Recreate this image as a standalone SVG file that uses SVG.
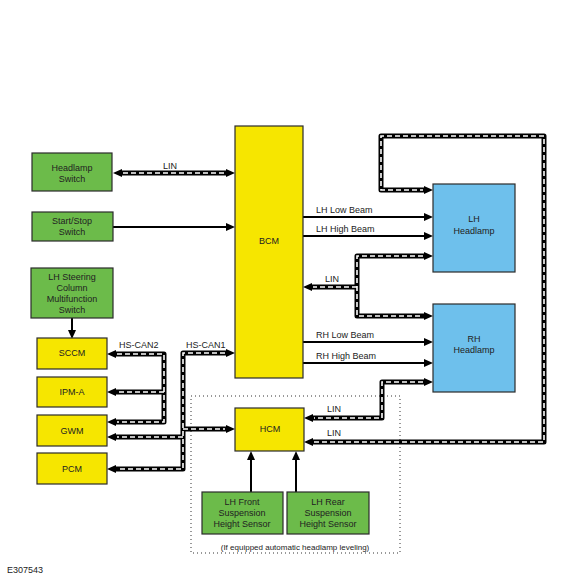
<svg xmlns="http://www.w3.org/2000/svg" width="580" height="580" viewBox="0 0 580 580">
<defs>
<marker id="ah" markerWidth="9" markerHeight="8" refX="0" refY="4" orient="auto-start-reverse" markerUnits="userSpaceOnUse"><path d="M0,0 L9,4 L0,8 z" fill="#000"/></marker>
</defs>
<style>
text{font-family:"Liberation Sans",Arial,sans-serif;font-size:9px;fill:#222}
.c{text-anchor:middle}
.g{fill:#6cbb4a;stroke:#2b2b2b;stroke-width:1.2}
.y{fill:#f6e600;stroke:#2b2b2b;stroke-width:1.2}
.b{fill:#6ec0ec;stroke:#2b2b2b;stroke-width:1.2}
.bus{fill:none;stroke:#000;stroke-width:5;stroke-linejoin:round}
.dash{fill:none;stroke:#fff;stroke-width:1.6;stroke-dasharray:5 3}
.w{fill:none;stroke:#000;stroke-width:2}
.both{marker-start:url(#ah);marker-end:url(#ah)}
.end{marker-end:url(#ah)}
</style>
<rect width="580" height="580" fill="#fff"/>
<rect x="191" y="396" width="209" height="157" fill="none" stroke="#333" stroke-width="1" stroke-dasharray="1 3"/>
<g id="connectors">
<path class="bus both" d="M122,173 H226"/>
<path class="dash" d="M123,173 H225"/>
<path class="w end" d="M113,227 H226"/>
<path class="w end" d="M72,318 V330"/>
<path class="bus both" d="M116,354 H164 V422 H116"/>
<path class="bus end" d="M164,392 H116"/>
<path class="dash" d="M117,354 H164 V422 H117 M164,392 H117"/>
<path class="bus both" d="M226,353 H183 V469 H116"/>
<path class="bus end" d="M183,437 H116"/>
<path class="bus end" d="M183,429 H226"/>
<path class="dash" d="M225,353 H183 V469 H117 M183,437 H117 M183,429 H225"/>
<path class="w end" d="M303,217 H424"/>
<path class="w end" d="M303,236 H424"/>
<path class="w end" d="M303,342 H424"/>
<path class="w end" d="M303,363 H424"/>
<path class="bus both" d="M424,256 H357 V316 H424"/>
<path class="bus end" d="M357,287 H312"/>
<path class="dash" d="M423,256 H357 V316 H423 M357,287 H313"/>
<path class="bus both" d="M424,382 H382 V418 H313"/>
<path class="dash" d="M423,382 H382 V418 H314"/>
<path class="bus both" d="M313,442 H544 V136 H381 V190 H424"/>
<path class="dash" d="M314,442 H544 V136 H381 V190 H423"/>
<path class="w end" d="M251,492 V460"/>
<path class="w end" d="M296,492 V460"/>
</g>
<g id="headlamp-switch"><rect class="g" x="32" y="153" width="80" height="38"/><text class="c" x="72" y="171">Headlamp</text><text class="c" x="72" y="182">Switch</text></g>
<g id="start-stop-switch"><rect class="g" x="32" y="212" width="81" height="29"/><text class="c" x="72" y="224">Start/Stop</text><text class="c" x="72" y="235">Switch</text></g>
<g id="lh-steering"><rect class="g" x="31" y="268" width="82" height="50"/><text class="c" x="72" y="280">LH Steering</text><text class="c" x="72" y="291">Column</text><text class="c" x="72" y="302">Multifunction</text><text class="c" x="72" y="313">Switch</text></g>
<g id="sccm"><rect class="y" x="37" y="338" width="70" height="31"/><text class="c" x="72" y="356">SCCM</text></g>
<g id="ipm-a"><rect class="y" x="37" y="377" width="70" height="30"/><text class="c" x="72" y="395">IPM-A</text></g>
<g id="gwm"><rect class="y" x="37" y="415" width="70" height="31"/><text class="c" x="72" y="434">GWM</text></g>
<g id="pcm"><rect class="y" x="37" y="453" width="70" height="31"/><text class="c" x="72" y="472">PCM</text></g>
<g id="bcm"><rect class="y" x="235" y="126" width="68" height="252"/><text class="c" x="269" y="244">BCM</text></g>
<g id="hcm"><rect class="y" x="235" y="408" width="69" height="43"/><text class="c" x="270" y="432">HCM</text></g>
<g id="lh-headlamp"><rect class="b" x="433" y="184" width="82" height="88"/><text class="c" x="474" y="222">LH</text><text class="c" x="474" y="234">Headlamp</text></g>
<g id="rh-headlamp"><rect class="b" x="433" y="304" width="82" height="88"/><text class="c" x="474" y="342">RH</text><text class="c" x="474" y="353">Headlamp</text></g>
<g id="lh-front-sensor"><rect class="g" x="202" y="492" width="81" height="42"/><text class="c" x="242" y="505">LH Front</text><text class="c" x="242" y="516">Suspension</text><text class="c" x="242" y="527">Height Sensor</text></g>
<g id="lh-rear-sensor"><rect class="g" x="287" y="492" width="82" height="42"/><text class="c" x="328" y="505">LH Rear</text><text class="c" x="328" y="516">Suspension</text><text class="c" x="328" y="527">Height Sensor</text></g>
<g id="labels">
<text class="c" x="170" y="169">LIN</text>
<text x="119" y="348">HS-CAN2</text>
<text x="186" y="348">HS-CAN1</text>
<text x="316" y="213">LH Low Beam</text>
<text x="316" y="232">LH High Beam</text>
<text x="325" y="282">LIN</text>
<text x="316" y="338">RH Low Beam</text>
<text x="316" y="359">RH High Beam</text>
<text x="327" y="412">LIN</text>
<text x="327" y="436">LIN</text>
<text class="c" x="295" y="550" style="font-size:8px">(If equipped automatic headlamp leveling)</text>
<text x="7" y="573">E307543</text>
</g>
</svg>
